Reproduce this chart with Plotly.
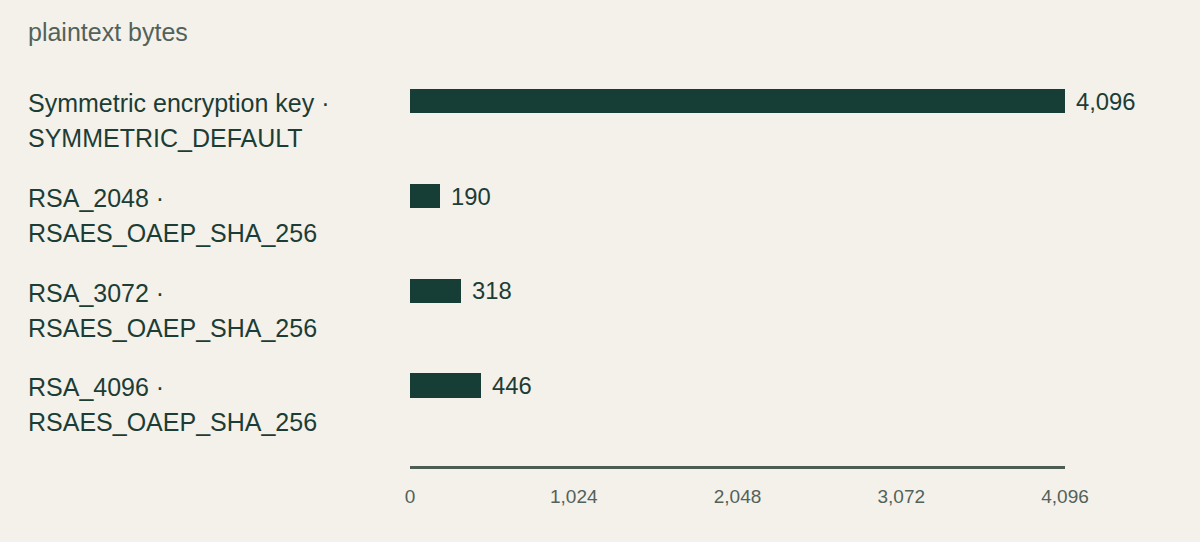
import plotly.graph_objects as go

# data
labels_top = ["Symmetric encryption key ·", "RSA_2048 ·", "RSA_3072 ·", "RSA_4096 ·"]
labels_bottom = ["SYMMETRIC_DEFAULT", "RSAES_OAEP_SHA_256", "RSAES_OAEP_SHA_256", "RSAES_OAEP_SHA_256"]
plaintext_bytes = [4096, 190, 318, 446]
tick_vals = [0, 1024, 2048, 3072, 4096]
tick_text = ["0", "1,024", "2,048", "3,072", "4,096"]

BG = "#f4f1ea"
BAR = "#173e36"
DARK = "#1c3d35"
GREY = "#52625a"
FONT = "Liberation Sans, Arial, sans-serif"

cats = list(range(len(plaintext_bytes)))

fig = go.Figure()
fig.add_trace(go.Bar(
    x=plaintext_bytes,
    y=cats,
    orientation="h",
    width=0.255,
    marker=dict(color=BAR, line=dict(width=0)),
    hoverinfo="skip",
))

annotations = []
for i, v in enumerate(plaintext_bytes):
    # value label
    annotations.append(dict(
        x=v, y=i, xref="x", yref="y", text=f"{v:,}", showarrow=False,
        xanchor="left", yanchor="middle", xshift=9,
        font=dict(size=23.8, color=DARK, family=FONT),
    ))
    # category labels, two lines
    annotations.append(dict(
        x=0, y=i, xref="paper", yref="y", text=labels_top[i], showarrow=False,
        xanchor="left", yanchor="middle", xshift=-384, yshift=-2,
        font=dict(size=25, color=DARK, family=FONT),
    ))
    annotations.append(dict(
        x=0, y=i, xref="paper", yref="y", text=labels_bottom[i], showarrow=False,
        xanchor="left", yanchor="middle", xshift=-384, yshift=-37,
        font=dict(size=25, color=DARK, family=FONT),
    ))

fig.update_layout(
    width=1200,
    height=542,
    paper_bgcolor=BG,
    plot_bgcolor=BG,
    margin=dict(l=410, r=135, t=54, b=76),
    showlegend=False,
    title=dict(
        text="plaintext bytes", x=28 / 1200, xanchor="left",
        y=1 - 32 / 542, yanchor="middle",
        font=dict(size=25, color=GREY, family=FONT),
    ),
    annotations=annotations,
    bargap=0,
)

fig.update_xaxes(
    range=[0, 4096],
    tickvals=tick_vals,
    ticktext=tick_text,
    showgrid=False,
    zeroline=False,
    showline=True,
    linecolor="#4e5d54",
    linewidth=3,
    ticks="",
    ticklabelstandoff=11,
    tickfont=dict(size=19, color=GREY, family=FONT),
)
fig.update_yaxes(
    range=[3.85, -0.5],
    showticklabels=False,
    showgrid=False,
    zeroline=False,
    showline=False,
)

fig.write_html(
    "out.html",
    config={"displayModeBar": False},
    post_script="document.body.style.margin='0';",
)
